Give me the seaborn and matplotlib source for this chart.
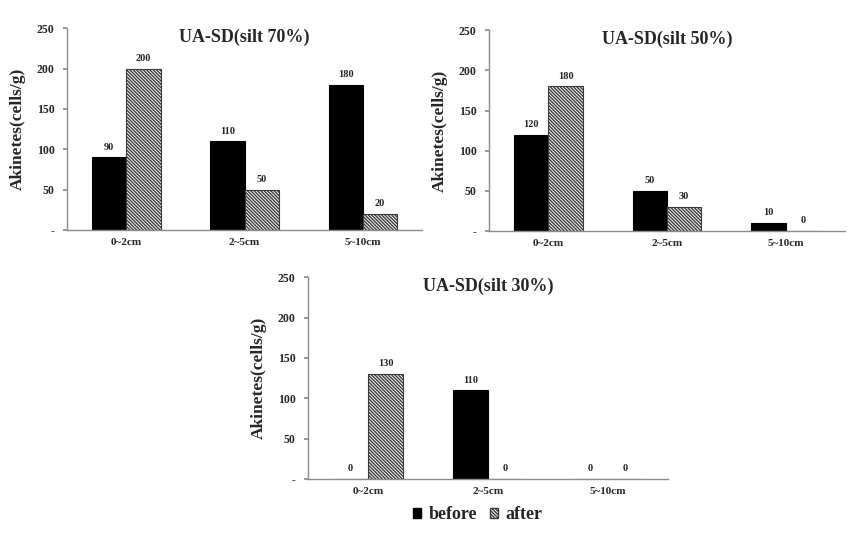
import matplotlib
matplotlib.use("Agg")
import matplotlib.pyplot as plt
import seaborn as sns
import pandas as pd
from matplotlib.patches import Patch

depths = ["0~2cm", "2~5cm", "5~10cm"]
titles = ["UA-SD(silt 70%)", "UA-SD(silt 50%)", "UA-SD(silt 30%)"]
before_70 = [90, 110, 180]
after_70 = [200, 50, 20]
before_50 = [120, 50, 10]
after_50 = [180, 30, 0]
before_30 = [0, 110, 0]
after_30 = [130, 0, 0]
yticks = [0, 50, 100, 150, 200, 250]
ytick_labels = ["-", "50", "100", "150", "200", "250"]

sns.set_theme(style="white")
plt.rcParams["font.family"] = ["Liberation Serif", "DejaVu Serif"]
plt.rcParams["font.weight"] = "bold"
plt.rcParams["hatch.linewidth"] = 1.0

HATCH = "\\" * 10
HATCH_EDGE = "#3a3a3a"

fig = plt.figure(figsize=(8.66, 5.34), dpi=100)
positions = [
    [0.0774, 0.5693, 0.410, 0.378],
    [0.5647, 0.5674, 0.411, 0.376],
    [0.3557, 0.1030, 0.4157, 0.378],
]
series = [(before_70, after_70), (before_50, after_50), (before_30, after_30)]

gray = "#8c8c8c"
for pos, title, (b, a) in zip(positions, titles, series):
    ax = fig.add_axes(pos)
    df = pd.DataFrame({
        "depth": depths * 2,
        "value": b + a,
        "period": ["before"] * 3 + ["after"] * 3,
    })
    sns.barplot(data=df, x="depth", y="value", hue="period",
                hue_order=["before", "after"],
                palette={"before": "black", "after": "white"},
                width=0.58, gap=0, ax=ax, legend=False, errorbar=None,
                saturation=1)
    for bar in ax.containers[0]:
        bar.set_edgecolor("black")
        bar.set_linewidth(0.8)
    for bar in ax.containers[1]:
        bar.set_facecolor("white")
        bar.set_edgecolor(HATCH_EDGE)
        bar.set_hatch(HATCH)
        bar.set_linewidth(0.8)
    for cont in ax.containers:
        ax.bar_label(cont, fmt="%d", padding=4, fontsize=7.5, fontweight="bold")
    ax.set_xlim(-0.5, 2.5)
    ax.set_ylim(0, 250)
    ax.set_yticks(yticks)
    ax.set_yticklabels(ytick_labels, fontsize=8.5, fontweight="bold")
    ax.set_xticks(range(3))
    ax.set_xticklabels(depths, fontsize=8, fontweight="bold")
    ax.set_xticks([0.5, 1.5], minor=True)
    ax.tick_params(axis="x", which="major", length=0, pad=6)
    ax.tick_params(axis="x", which="minor", length=3, color=gray, direction="out")
    ax.tick_params(axis="y", length=3, color=gray, direction="out", left=True, pad=6)
    ax.set_xlabel("")
    ax.set_ylabel("Akinetes(cells/g)", fontsize=12.5, fontweight="bold", labelpad=8)
    for s in ["top", "right"]:
        ax.spines[s].set_visible(False)
    for s in ["left", "bottom"]:
        ax.spines[s].set_color(gray)
        ax.spines[s].set_linewidth(1.0)
    ax.text(0.5, 0.955, title, transform=ax.transAxes, ha="center", va="center",
            fontsize=13, fontweight="bold")

handles = [Patch(facecolor="black", edgecolor="black", label="before"),
           Patch(facecolor="white", edgecolor=HATCH_EDGE, hatch=HATCH, label="after")]
fig.legend(handles=handles, loc="center", bbox_to_anchor=(0.5514, 0.036), ncol=2,
           frameon=False, prop={"size": 13, "weight": "bold"},
           handlelength=0.45, handleheight=0.45, handletextpad=0.4, columnspacing=0.7)

fig.savefig("out.png", dpi=100, facecolor="white")
